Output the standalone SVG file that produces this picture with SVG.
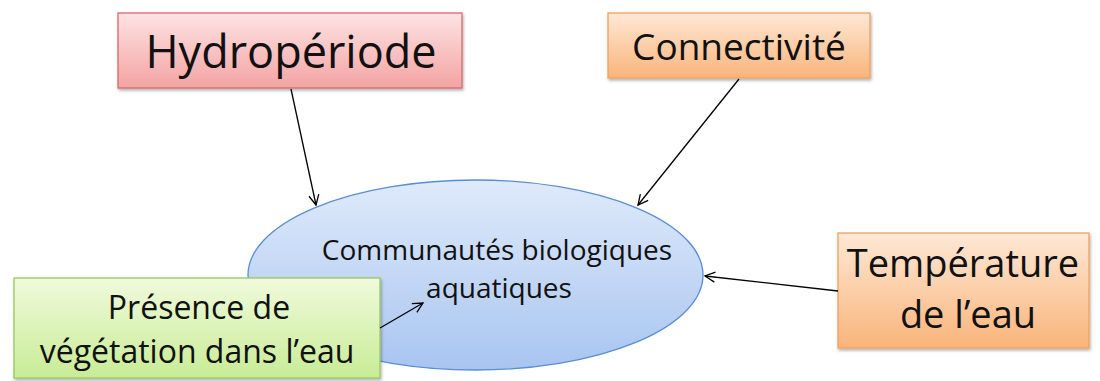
<svg xmlns="http://www.w3.org/2000/svg" width="1100" height="381" viewBox="0 0 1100 381">
<defs>
<linearGradient id="gRed" x1="0" y1="0" x2="0" y2="1"><stop offset="0" stop-color="#fde3e3"/><stop offset="1" stop-color="#f4a3a3"/></linearGradient>
<linearGradient id="gOrange" x1="0" y1="0" x2="0" y2="1"><stop offset="0" stop-color="#fee8d6"/><stop offset="1" stop-color="#f9b47a"/></linearGradient>
<linearGradient id="gGreen" x1="0" y1="0" x2="0" y2="1"><stop offset="0" stop-color="#f0fadc"/><stop offset="1" stop-color="#c8ec96"/></linearGradient>
<linearGradient id="gBlue" x1="0" y1="0" x2="0" y2="1"><stop offset="0" stop-color="#dfeafb"/><stop offset="1" stop-color="#a8c5f0"/></linearGradient>
<filter id="sh" x="-10%" y="-10%" width="120%" height="130%"><feDropShadow dx="1" dy="2" stdDeviation="1.5" flood-color="#000" flood-opacity="0.3"/></filter>
<marker id="arr" markerWidth="14" markerHeight="14" refX="12" refY="7" orient="auto" markerUnits="userSpaceOnUse"><path d="M2,2 L12,7 L2,12" fill="none" stroke="#000" stroke-width="1.3"/></marker>
</defs>
<style>
text{font-family:"Open Sans","Noto Sans",sans-serif;fill:#111;text-anchor:middle}
.c{stroke:#000;stroke-width:1.3;fill:none;marker-end:url(#arr)}
</style>
<rect width="1100" height="381" fill="#fff"/>
<g id="node-communautes">
<ellipse cx="475.5" cy="275" rx="227.5" ry="95" fill="url(#gBlue)" stroke="#5a8ed2" stroke-width="1.3"/>
<text x="497" y="260" font-size="28">Communautés biologiques</text>
<text x="499" y="298" font-size="28">aquatiques</text>
</g>
<g id="node-hydroperiode">
<rect x="118" y="13" width="344" height="75" fill="url(#gRed)" stroke="#d66b6b" stroke-width="1.3" filter="url(#sh)"/>
<text x="291" y="68" font-size="45">Hydropériode</text>
</g>
<g id="node-connectivite">
<rect x="608" y="13" width="262" height="65" fill="url(#gOrange)" stroke="#f0a05c" stroke-width="1.3" filter="url(#sh)"/>
<text x="739" y="60" font-size="37">Connectivité</text>
</g>
<g id="node-temperature">
<rect x="838" y="233" width="251" height="115" fill="url(#gOrange)" stroke="#f0a05c" stroke-width="1.3" filter="url(#sh)"/>
<text x="963" y="277" font-size="38">Température</text>
<text x="968" y="328" font-size="38">de l’eau</text>
</g>
<g id="node-vegetation">
<rect x="14" y="278" width="366" height="100" fill="url(#gGreen)" stroke="#98c95c" stroke-width="1.3" filter="url(#sh)"/>
<text x="199" y="319" font-size="32">Présence de</text>
<text x="197" y="363" font-size="32">végétation dans l’eau</text>
</g>
<g id="connectors">
<line class="c" x1="291" y1="89" x2="316" y2="205"/>
<line class="c" x1="739" y1="79" x2="638" y2="205"/>
<line class="c" x1="838" y1="291" x2="705" y2="276"/>
<line class="c" x1="380" y1="328" x2="423" y2="303"/>
</g>
</svg>
